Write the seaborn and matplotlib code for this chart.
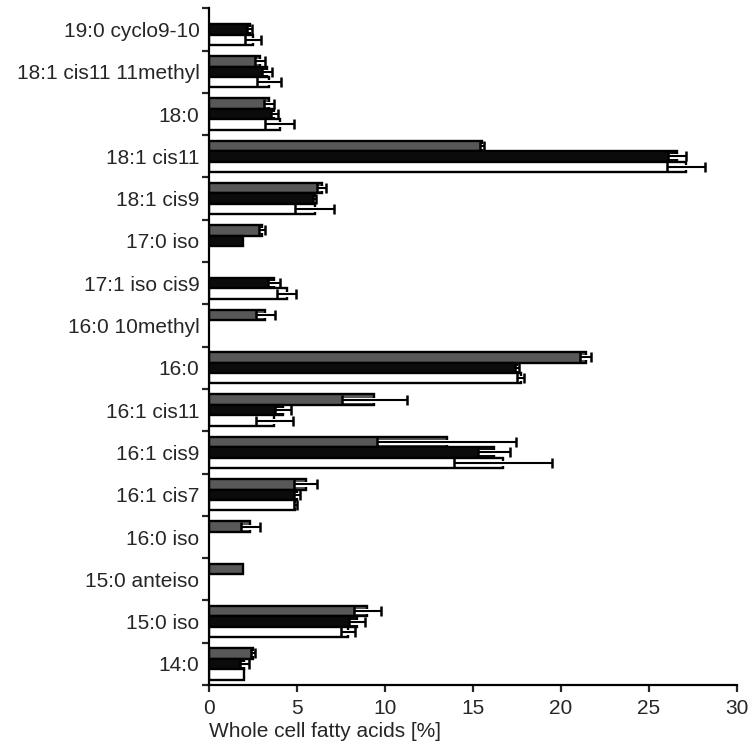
import matplotlib
matplotlib.use('Agg')
import matplotlib.pyplot as plt
import matplotlib.patheffects as pe
import numpy as np
import pandas as pd
import seaborn as sns

nan = np.nan

# fatty acids, top to bottom
cats = ['19:0 cyclo9-10', '18:1 cis11 11methyl', '18:0', '18:1 cis11', '18:1 cis9',
        '17:0 iso', '17:1 iso cis9', '16:0 10methyl', '16:0', '16:1 cis11',
        '16:1 cis9', '16:1 cis7', '16:0 iso', '15:0 anteiso', '15:0 iso', '14:0']

gray = [nan, 2.9, 3.4, 15.5, 6.4, 3.0, nan, 3.2, 21.4, 9.4, 13.5, 5.5, 2.35, 1.9, 9.0, 2.5]
gray_err = [nan, 0.3, 0.3, 0.1, 0.25, 0.15, nan, 0.55, 0.3, 1.85, 3.95, 0.65, 0.55, 0, 0.75, 0.1]
black = [2.3, 3.3, 3.7, 26.6, 6.0, 1.9, 3.7, nan, 17.5, 4.2, 16.2, 5.0, nan, nan, 8.4, 2.0]
black_err = [0.15, 0.3, 0.2, 0.5, 0.1, 0, 0.35, nan, 0.1, 0.45, 0.9, 0.15, nan, nan, 0.45, 0.25]
white = [2.5, 3.4, 4.0, 27.1, 6.0, nan, 4.4, nan, 17.7, 3.7, 16.7, 4.9, nan, nan, 7.9, 2.0]
white_err = [0.45, 0.7, 0.8, 1.1, 1.1, nan, 0.55, nan, 0.2, 1.05, 2.8, 0.1, nan, nan, 0.4, 0.0]

groups = ['A', 'B', 'C']
colors = {'A': '#585858', 'B': '#0b0b0b', 'C': '#ffffff'}
vals = {'A': gray, 'B': black, 'C': white}
errs = {'A': gray_err, 'B': black_err, 'C': white_err}

df = pd.DataFrame({
    'fa': cats * 3,
    'group': [g for g in groups for _ in cats],
    'value': gray + black + white,
})

sns.set_style('white')
plt.rcParams['font.family'] = ['Liberation Sans', 'DejaVu Sans']

fig = plt.figure(figsize=(7.55, 7.52), dpi=100)
ax = fig.add_axes([0.277, 0.089, 0.699, 0.9])

sns.barplot(data=df, y='fa', x='value', hue='group', order=cats, hue_order=groups,
            palette=colors, orient='h', width=0.74, gap=0, errorbar=None,
            edgecolor='black', linewidth=1.7, legend=False, ax=ax)

# error bars: black line with white outline
for g, cont in zip(groups, ax.containers):
    for bar in cont:
        yc = bar.get_y() + bar.get_height() / 2
        i = int(round(yc))
        v, e = vals[g][i], errs[g][i]
        if np.isnan(v) or np.isnan(e) or e <= 0:
            continue
        eb = ax.errorbar(v, yc, xerr=e, fmt='none', ecolor='black', elinewidth=1.5,
                         capsize=3.8, capthick=1.8, zorder=5)
        for art in eb.lines[2]:
            art.set_path_effects([pe.Stroke(linewidth=3.6, foreground='white'), pe.Normal()])

ax.set_xlim(0, 30)
ax.set_ylim(len(cats) - 0.5, -0.5)
ax.set_xticks([0, 5, 10, 15, 20, 25, 30])
ax.set_yticks(np.arange(-0.5, len(cats), 1.0), minor=True)
ax.tick_params(axis='y', which='major', length=0, pad=7, labelsize=15)
ax.tick_params(axis='y', which='minor', length=5, width=1.6, direction='out', left=True)
ax.tick_params(axis='x', which='major', length=5, width=1.6, direction='out', bottom=True,
               labelsize=15, pad=5)
for s in ['top', 'right']:
    ax.spines[s].set_visible(False)
for s in ['left', 'bottom']:
    ax.spines[s].set_linewidth(1.6)
    ax.spines[s].set_color('black')
ax.set_ylabel('')
ax.set_xlabel('Whole cell fatty acids [%]', fontsize=15, loc='left', labelpad=3)

fig.savefig('out.png', dpi=100)
